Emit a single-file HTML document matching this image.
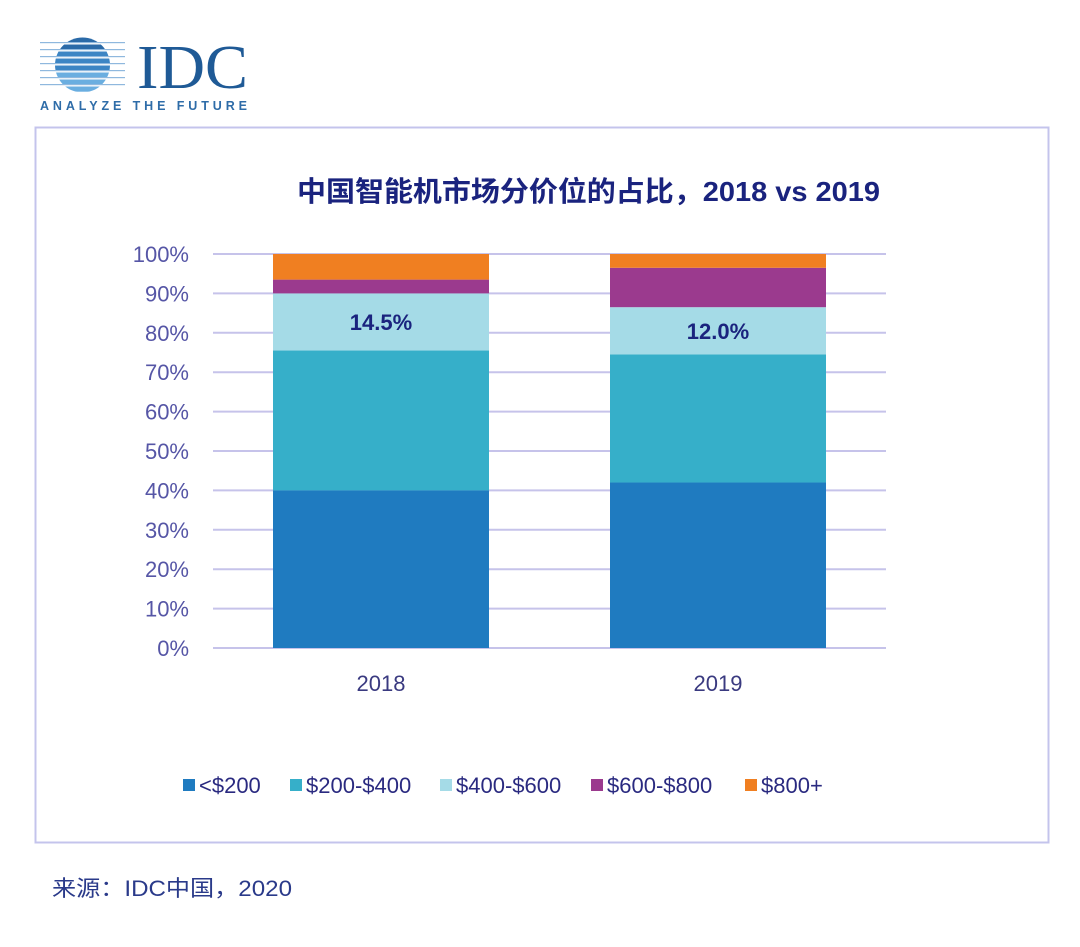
<!DOCTYPE html>
<html><head><meta charset="utf-8">
<style>
html,body{margin:0;padding:0;background:#fff;}
body{width:1080px;height:947px;position:relative;overflow:hidden;font-family:"Liberation Sans","Noto Sans CJK SC",sans-serif;}
</style></head>
<body>
<svg id="chart" width="1080" height="947" xmlns="http://www.w3.org/2000/svg" style="position:absolute;left:0;top:0">
  <g>
    <defs><clipPath id="globe"><circle cx="82.5" cy="65" r="27.5"/></clipPath></defs>
    <g clip-path="url(#globe)" id="globeStripes"></g>
    <g id="logoLines"></g>
    <text x="137" y="88" font-family="Liberation Serif,serif" font-size="62" textLength="111" lengthAdjust="spacingAndGlyphs" fill="#1f5a96">IDC</text>
    <text x="40" y="110" font-size="12.5" textLength="207" lengthAdjust="spacing" fill="#2e6ca8" font-weight="bold">ANALYZE THE FUTURE</text>
  </g>
  <rect x="35.5" y="127.5" width="1013" height="715" fill="none" stroke="#c4c4ec" stroke-width="2"/>
  <text x="297" y="201" textLength="583" lengthAdjust="spacingAndGlyphs" font-size="28" font-weight="bold" fill="#1a237e">中国智能机市场分价位的占比，2018 vs 2019</text>
  <g id="grid"></g>
  <g id="bars"></g>
  <g id="legend"></g>
  <text x="52" y="896" font-size="22" textLength="240" lengthAdjust="spacingAndGlyphs" fill="#2a3a8a">来源：IDC中国，2020</text>
</svg>
<script>
const categories = ["2018", "2019"];
const seriesNames = ["<$200", "$200-$400", "$400-$600", "$600-$800", "$800+"];
const s200 = [40, 42];
const s400 = [35.5, 32.5];
const s600 = [14.5, 12];
const s800 = [3.5, 10];
const s800plus = [6.5, 3.5];
const barLabels = ["14.5%", "12.0%"];
const yTicks = [0, 10, 20, 30, 40, 50, 60, 70, 80, 90, 100];
const yTickLabels = ["0%","10%","20%","30%","40%","50%","60%","70%","80%","90%","100%"];

const colors = ["#1f7bc0", "#36afc9", "#a5dbe7", "#9b3a8e", "#f07f21"];
const NS = "http://www.w3.org/2000/svg";
const y0 = 648, y1 = 254, plotL = 213, plotR = 886;
const yScale = v => y0 - (v / 100) * (y0 - y1);
const barW = 216;
const xCenter = i => 381 + i * 337;
function mk(tag, attrs, parent) {
  const e = document.createElementNS(NS, tag);
  for (const k in attrs) e.setAttribute(k, attrs[k]);
  parent.appendChild(e);
  return e;
}
const gs = document.getElementById('globeStripes');
for (let i = 0; i < 8; i++) {
  const r = mk('rect', {x: 50, y: 37.5 + i * 7, width: 70, height: 5.2, fill: i < 2 ? '#2a6aa8' : (i < 5 ? '#3c85c4' : '#6aaee0')}, gs);
  
  
}
const ll = document.getElementById('logoLines');
for (let i = 0; i < 7; i++) {
  const l = mk('rect', {x: 40, y: 42 + i * 7, width: 85, height: 1.2, fill: '#8fb8de'}, ll);
  
  
}
const grid = document.getElementById('grid');
yTicks.forEach((t, i) => {
  const y = yScale(t);
  const ln = mk('line', {x1: plotL, x2: plotR, y1: y, y2: y, stroke: '#c6c3ea', 'stroke-width': 2}, grid);
  
  
  const tx = mk('text', {x: 189, y: y + 8, 'text-anchor': 'end', 'font-size': 22, fill: '#5656a6'}, grid);
  tx.textContent = yTickLabels[i];
  
  
});
const bars = document.getElementById('bars');
const series = [s200, s400, s600, s800, s800plus];
categories.forEach((c, i) => {
  let acc = 0;
  const x = xCenter(i) - barW / 2;
  series.forEach((s, k) => {
    const top = yScale(acc + s[i]), bot = yScale(acc);
    const r = mk('rect', {x: x, y: top, width: barW, height: bot - top, fill: colors[k]}, bars);
    
    
    if (k === 2) {
      const t = mk('text', {x: xCenter(i), y: (top + bot) / 2 + 8, 'text-anchor': 'middle', 'font-size': 22, 'font-weight': 600, fill: '#1a237e'}, bars);
      t.textContent = barLabels[i];
      
      
    }
    acc += s[i];
  });
  const xl = mk('text', {x: xCenter(i), y: 691, 'text-anchor': 'middle', 'font-size': 22, fill: '#3a3a80'}, bars);
  xl.textContent = c;
  
  
});
const lg = document.getElementById('legend');
const legX = [183, 290, 440, 591, 745];
seriesNames.forEach((n, k) => {
  const sq = mk('rect', {x: legX[k], y: 779, width: 12, height: 12, fill: colors[k]}, lg);
  
  
  const t = mk('text', {x: legX[k] + 16, y: 793, 'font-size': 22, fill: '#2a2a80'}, lg);
  t.textContent = n;
  
  
});
</script>
</body></html>
